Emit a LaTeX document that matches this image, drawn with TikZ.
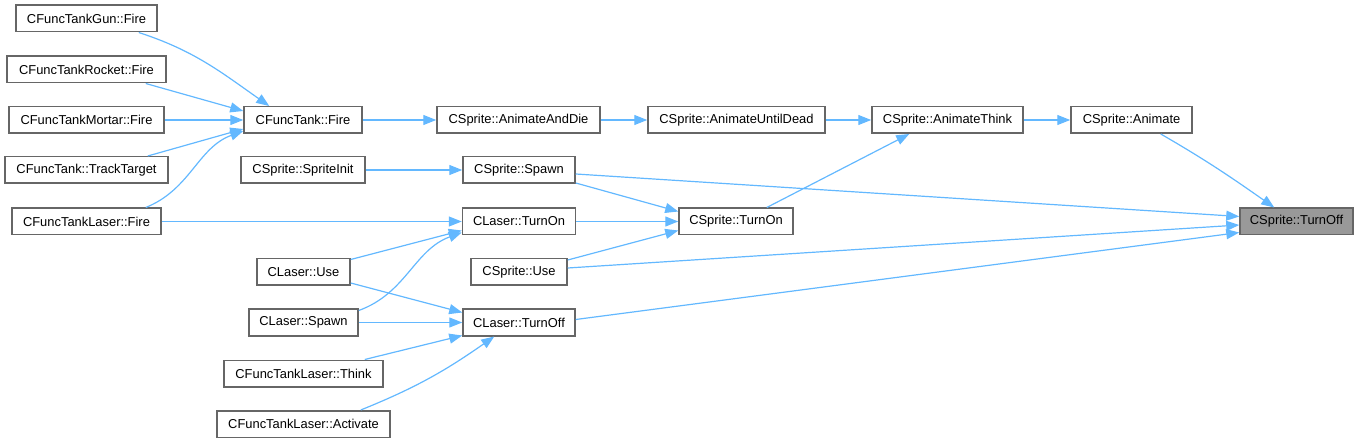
\documentclass[tikz,border=0pt]{standalone}
\usepackage{fontspec}
\setmainfont{Liberation Sans}
\usetikzlibrary{arrows.meta}
\definecolor{edgeblue}{HTML}{63B8FF}
\definecolor{boxgrey}{HTML}{666666}
\definecolor{hilite}{HTML}{999999}
\tikzset{
  fn/.style={draw=boxgrey, line width=1.5pt, fill=white, minimum height=26.5pt, inner sep=0pt, font=\fontsize{12.9}{15}\selectfont},
  cur/.style={fn, fill=hilite},
  call/.style={draw=edgeblue, line width=1.2pt, -{Triangle[length=13pt,width=10pt]}}
}
\begin{document}
\begin{tikzpicture}[x=1pt,y=-1pt]
\useasboundingbox (0,0) rectangle (1359,443);
% column 1
\node[fn, minimum width=141pt] (gun)      at (86.5,18.5)  {CFuncTankGun::Fire};
\node[fn, minimum width=159pt] (rocket)   at (86.5,69.5)  {CFuncTankRocket::Fire};
\node[fn, minimum width=155pt] (mortar)   at (86.5,120)   {CFuncTankMortar::Fire};
\node[fn, minimum width=163pt] (track)    at (86.5,170)   {CFuncTank::TrackTarget};
\node[fn, minimum width=149pt] (tlfire)   at (86.5,221.5) {CFuncTankLaser::Fire};
% column 2
\node[fn, minimum width=118pt] (tfire)    at (303,120)    {CFuncTank::Fire};
\node[fn, minimum width=124pt] (sinit)    at (303,170)    {CSprite::SpriteInit};
\node[fn, minimum width=93pt]  (luse)     at (303.5,272)  {CLaser::Use};
\node[fn, minimum width=109pt] (lspawn)   at (303.5,322.5){CLaser::Spawn};
\node[fn, minimum width=159pt] (think)    at (303.5,373.5){CFuncTankLaser::Think};
\node[fn, minimum width=173pt] (activate) at (303.5,424)  {CFuncTankLaser::Activate};
% column 3
\node[fn, minimum width=163pt] (animdie)  at (518.5,120)  {CSprite::AnimateAndDie};
\node[fn, minimum width=112pt] (sspawn)   at (519,170)    {CSprite::Spawn};
\node[fn, minimum width=113pt] (lturnon)  at (519,221.5)  {CLaser::TurnOn};
\node[fn, minimum width=96pt]  (suse)     at (519,272)    {CSprite::Use};
\node[fn, minimum width=112pt] (lturnoff) at (519,322.5)  {CLaser::TurnOff};
% column 4
\node[fn, minimum width=177pt] (untildead) at (736.5,120) {CSprite::AnimateUntilDead};
\node[fn, minimum width=114pt] (sturnon)   at (736,221.5) {CSprite::TurnOn};
% column 5+
\node[fn, minimum width=151pt] (animthink) at (947.5,120) {CSprite::AnimateThink};
\node[fn, minimum width=121pt] (animate)   at (1131.5,120){CSprite::Animate};
\node[cur, minimum width=113pt] (turnoff)  at (1296.5,221.5){CSprite::TurnOff};
% edges into CFuncTank::Fire
\draw[call] ([xshift=-19pt]gun.south east) to[out=-18,in=145] ([xshift=26pt]tfire.north west);
\draw[call] ([xshift=-21pt]rocket.south east) -- ([yshift=-5pt]tfire.north west);
\draw[call] (mortar.east) -- (tfire.west);
\draw[call] ([xshift=-21pt]track.north east) -- ([yshift=5pt]tfire.south west);
\draw[call] ([xshift=-16pt]tlfire.north east) to[out=22,in=200] ([yshift=3pt]tfire.south west);
\draw[call] (tlfire.east) -- (lturnon.west);
% top chain
\draw[call] (tfire.east) -- (animdie.west);
\draw[call] (animdie.east) -- (untildead.west);
\draw[call] (untildead.east) -- (animthink.west);
\draw[call] (animthink.east) -- (animate.west);
\draw[call] ([xshift=-32pt]animate.south east) to[out=-30,in=145] ([xshift=35pt]turnoff.north west);
% sprite spawn
\draw[call] (sinit.east) -- (sspawn.west);
\draw[call] ([yshift=1pt]sspawn.south east) -- ([yshift=-4pt]sturnon.north west);
\draw[call] ([yshift=-4pt]sspawn.east) -- ([yshift=5pt]turnoff.west);
% turn on
\draw[call] (lturnon.east) -- (sturnon.west);
\draw[call] ([yshift=-2pt]suse.north east) -- ([yshift=5pt]sturnon.south west);
\draw[call] ([yshift=4pt]suse.east) -- ([yshift=-3.5pt]turnoff.west);
\draw[call] ([xshift=-27pt]sturnon.north east) -- ([xshift=38pt]animthink.south west);
\draw[call] ([yshift=3pt]lturnoff.east) -- ([yshift=3pt]turnoff.south west);
% laser
\draw[call] ([yshift=-1.5pt]luse.north east) -- ([yshift=5pt]lturnon.south west);
\draw[call] ([yshift=3pt]luse.south east) -- ([yshift=-4pt]lturnoff.north west);
\draw[call] ([yshift=-2pt]lspawn.north east) to[out=20,in=200] ([yshift=3pt]lturnon.south west);
\draw[call] (lspawn.east) -- (lturnoff.west);
\draw[call] ([xshift=-19pt]think.north east) -- ([yshift=1pt]lturnoff.south west);
\draw[call] ([xshift=-30pt]activate.north east) to[out=22,in=215] ([xshift=32pt]lturnoff.south west);
\end{tikzpicture}
\end{document}
